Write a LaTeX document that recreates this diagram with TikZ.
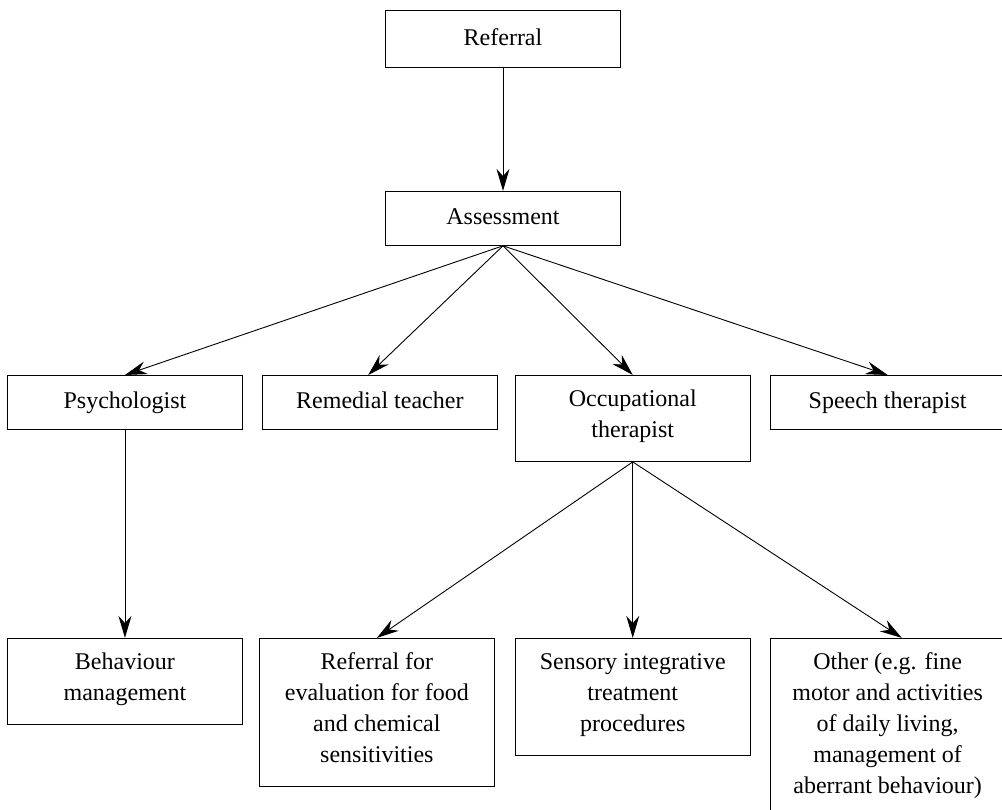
\documentclass[tikz,border=0pt]{standalone}
\usepackage{fontspec}
\setmainfont{Liberation Serif}
\usetikzlibrary{positioning, arrows.meta}

\begin{document}
\begin{tikzpicture}[
x=1pt, y=-1pt,
node distance=1cm,
every node/.style={align=center, font=\fontsize{24}{31}\selectfont,
  execute at begin node=\strut, execute at end node=\strut},
boxstyle/.style={draw, line width=0.9pt, minimum width=235pt, minimum height=54pt, inner sep=0pt},
twoline/.style={boxstyle, minimum height=86pt},
threeline/.style={boxstyle, minimum height=117pt},
fourline/.style={boxstyle, minimum height=148pt},
fiveline/.style={boxstyle, minimum height=178pt},
arrow/.style={-{Stealth[length=22pt, width=13pt]}, line width=0.9pt}
]
\useasboundingbox (0,0) rectangle (1002,810);
% Top of the chart
\node[boxstyle, minimum height=57pt, anchor=north] (referral) at (503,10) {Referral};
\node[boxstyle, below=123pt of referral] (assess) {Assessment};
\draw[arrow] (referral) -- (assess);
% Professionals
\node[boxstyle, anchor=north west] (psych) at (7,375) {Psychologist};
\node[boxstyle, right=19pt of psych] (remedial) {Remedial teacher};
\node[twoline, right=17pt of remedial.north east, anchor=north west] (occ) {Occupational\\therapist};
\node[boxstyle, right=19pt of occ.north east, anchor=north west] (speech) {Speech therapist};
\draw[arrow] (assess.south) -- (psych.north);
\draw[arrow] (assess.south) -- (remedial.113);
\draw[arrow] (assess.south) -- (occ.north);
\draw[arrow] (assess.south) -- (speech.north);
% Interventions
\node[twoline, below=208pt of psych] (behav) {Behaviour\\management};
\node[fourline, right=16pt of behav.north east, anchor=north west] (refeval) {Referral for\\evaluation for food\\and chemical\\sensitivities};
\node[threeline, right=20pt of refeval.north east, anchor=north west] (sensory) {Sensory integrative\\treatment\\procedures};
\node[fiveline, right=19pt of sensory.north east, anchor=north west] (other) {Other (e.g. fine\\motor and activities\\of daily living,\\management of\\aberrant behaviour)};
\draw[arrow] (psych) -- (behav);
\draw[arrow] (occ.south) -- (refeval.north);
\draw[arrow] (occ.south) -- (sensory.north);
\draw[arrow] (occ.south) -- (other.81);
\end{tikzpicture}
\end{document}
